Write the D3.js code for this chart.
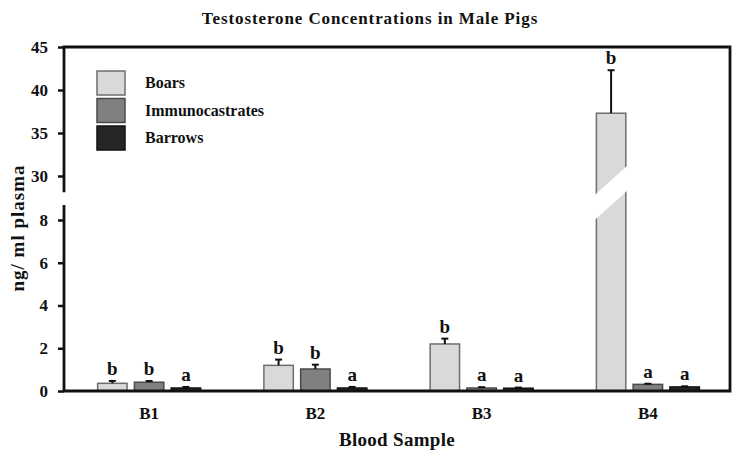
<!DOCTYPE html>
<html><head><meta charset="utf-8">
<script src="https://cdn.jsdelivr.net/npm/d3@7"></script>
<style>
body{margin:0;background:#fff}
text{font-family:"Liberation Serif","Times New Roman",serif;font-weight:bold;fill:#111}
</style>
</head><body>
<svg id="c" width="739" height="459"></svg>
<script>
const categories = ["B1","B2","B3","B4"];
const seriesNames = ["Boars","Immunocastrates","Barrows"];
const boars = [0.36, 1.20, 2.20, 37.3];
const boarsSE = [0.11, 0.27, 0.25, 5.0];
const immunocastrates = [0.41, 1.03, 0.14, 0.31];
const immunocastratesSE = [0.06, 0.20, 0.04, 0.03];
const barrows = [0.14, 0.14, 0.13, 0.19];
const barrowsSE = [0.05, 0.05, 0.03, 0.03];
const boarsLetters = ["b","b","b","b"];
const immunocastratesLetters = ["b","b","a","a"];
const barrowsLetters = ["a","a","a","a"];
const lowTicks = [0,2,4,6,8];
const highTicks = [30,35,40,45];

const colors = {Boars:"#d9d9d9", Immunocastrates:"#808080", Barrows:"#262626"};
const strokes = {Boars:"#6e6e6e", Immunocastrates:"#4a4a4a", Barrows:"#111"};

const series = [
  {name:"Boars", values:boars, se:boarsSE, letters:boarsLetters},
  {name:"Immunocastrates", values:immunocastrates, se:immunocastratesSE, letters:immunocastratesLetters},
  {name:"Barrows", values:barrows, se:barrowsSE, letters:barrowsLetters}
];

const svg = d3.select("#c");
const pLeft = 64, pRight = 730, pTop = 47, pBottom = 391;

const x = d3.scaleBand().domain(categories).range([66, 731]);
const xs = d3.scaleBand().domain(seriesNames).range([-51.5, 51.5]).paddingInner(0.2);
const yLow = d3.scaleLinear().domain([0, 8]).range([391, 220]);
const yHigh = d3.scaleLinear().domain([30, 45]).range([176, 47]);
const lowMax = 8.7, highMin = 28.1;
const yBreakTop = yHigh(highMin), yBreakBot = yLow(lowMax);
const yv = v => v > lowMax ? yHigh(v) : yLow(v);

// Title
svg.append("text").attr("x", 370).attr("y", 24).attr("text-anchor","middle")
  .style("font-size","17px").style("letter-spacing","0.9px").text("Testosterone Concentrations in Male Pigs");

// Bars
const data = [];
series.forEach(s => categories.forEach((c,i) => data.push({s:s.name, c, v:s.values[i], se:s.se[i], l:s.letters[i]})));

const g = svg.append("g");
data.forEach(d => {
  const x0 = x(d.c) + x.bandwidth()/2 + xs(d.s);
  const w = xs.bandwidth();
  const yt = yv(d.v);
  g.append("rect").attr("x", x0).attr("y", yt).attr("width", w).attr("height", yLow(0) - yt)
    .attr("fill", colors[d.s]).attr("stroke", strokes[d.s]).attr("stroke-width", 1.5);
  if (d.v > lowMax) {
    const xl = x0 - 3, xr = x0 + w + 3;
    g.append("polygon")
      .attr("points", [[xl, yBreakTop + 4], [xr, yBreakTop - 28], [xr, yBreakTop - 3], [xl, yBreakTop + 29]].map(p => p.join(",")).join(" "))
      .attr("fill", "#fff");
  }
  const ye = yv(d.v + d.se);
  const cx = x0 + w/2;
  g.append("line").attr("x1", cx).attr("x2", cx).attr("y1", yt).attr("y2", ye)
    .attr("stroke", "#111").attr("stroke-width", 2);
  g.append("line").attr("x1", cx - 3.5).attr("x2", cx + 3.5).attr("y1", ye).attr("y2", ye)
    .attr("stroke", "#111").attr("stroke-width", 2);
  g.append("text").attr("x", cx).attr("y", ye - 6).attr("text-anchor","middle")
    .style("font-size","19px").text(d.l);
});

// Axes
const axLow = svg.append("g").attr("transform", `translate(${pLeft},0)`)
  .call(d3.axisLeft(yLow).tickValues(lowTicks).tickSize(6).tickPadding(10).tickSizeOuter(0));
const axHigh = svg.append("g").attr("transform", `translate(${pLeft},0)`)
  .call(d3.axisLeft(yHigh).tickValues(highTicks).tickSize(6).tickPadding(10).tickSizeOuter(0));
[axLow, axHigh].forEach(a => {
  a.select(".domain").remove();
  a.selectAll(".tick line").attr("stroke", "#111").attr("stroke-width", 2.5);
  a.selectAll(".tick text").style("font-size","17px").style("font-family","'Liberation Serif',serif").style("font-weight","bold").attr("fill","#111");
});
const lineStyle = sel => sel.attr("stroke", "#111").attr("stroke-width", 2.8).attr("fill","none");
svg.append("path").attr("d", `M${pLeft},${yBreakTop}V${pTop}H${pRight}V${pBottom}H${pLeft}V${yBreakBot}`).call(lineStyle);

// X axis labels
const ax = svg.append("g").attr("transform", `translate(0,${pBottom})`)
  .call(d3.axisBottom(x).tickSize(0).tickPadding(16));
ax.select(".domain").remove();
ax.selectAll(".tick text").style("font-size","17px").style("font-family","'Liberation Serif',serif").style("font-weight","bold").attr("fill","#111");

svg.append("text").attr("x", 397).attr("y", 446).attr("text-anchor","middle")
  .style("font-size","19px").style("letter-spacing","0.3px").text("Blood Sample");
svg.append("text").attr("transform", "translate(24,228) rotate(-90)").attr("text-anchor","middle")
  .style("font-size","19px").style("letter-spacing","1px").text("ng/ ml plasma");

// Legend
const leg = svg.append("g").attr("transform", "translate(97,71)");
seriesNames.forEach((n, i) => {
  leg.append("rect").attr("x", 0).attr("y", i * 27.5).attr("width", 28).attr("height", 24)
    .attr("fill", colors[n]).attr("stroke", strokes[n]).attr("stroke-width", 1.5);
  leg.append("text").attr("x", 48).attr("y", i * 27.5 + 17).style("font-size","16px").text(n);
});
</script>
</body></html>
